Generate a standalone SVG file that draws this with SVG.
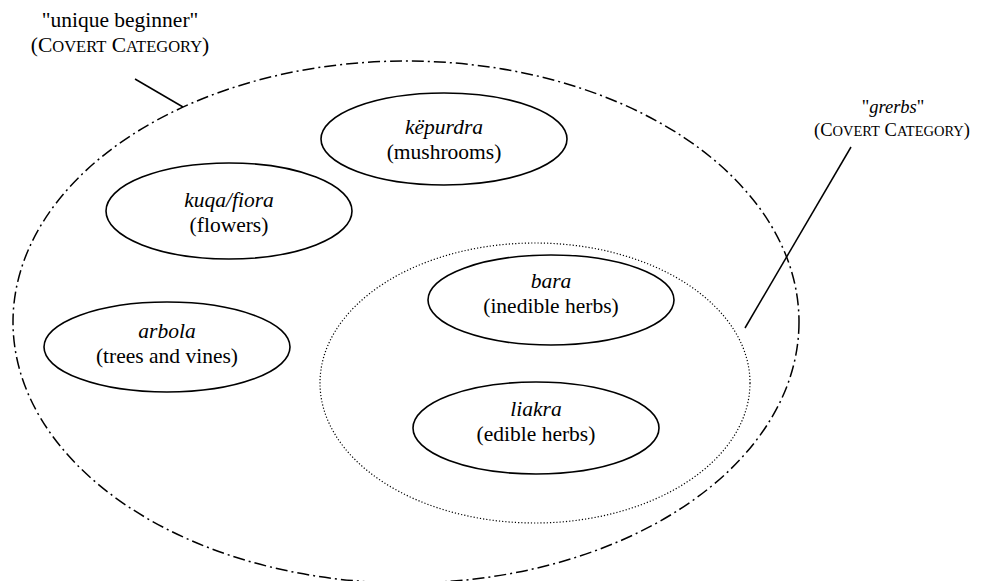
<svg xmlns="http://www.w3.org/2000/svg" width="995" height="581" viewBox="0 0 995 581">
<style>
text{font-family:"Liberation Serif","Times New Roman",serif;font-size:21.5px;fill:#000;text-anchor:middle}
.it{font-style:italic}
.sc{font-size:16.5px}
.r{font-size:18.5px}
.r .sc{font-size:14.5px}
.node{fill:none;stroke:#000;stroke-width:1.6}
.outer{fill:none;stroke:#000;stroke-width:1.5;stroke-dasharray:12 4 2 4}
.inner{fill:none;stroke:#000;stroke-width:1.2;stroke-dasharray:1.2 2}
.lead{stroke:#000;stroke-width:1.5}
</style>
<rect width="995" height="581" fill="#fff"/>
<g id="unique-beginner">
<ellipse class="outer" cx="406" cy="322" rx="393" ry="261"/>
<text x="120" y="27">"unique beginner"</text>
<text x="120" y="52">(C<tspan class="sc">OVERT</tspan> C<tspan class="sc">ATEGORY</tspan>)</text>
</g>
<g id="grerbs">
<ellipse class="inner" cx="535" cy="383" rx="215" ry="140"/>
<text class="r" x="893" y="113">"<tspan class="it">grerbs</tspan>"</text>
<text class="r" x="892" y="136">(C<tspan class="sc">OVERT</tspan> C<tspan class="sc">ATEGORY</tspan>)</text>
</g>
<g id="kepurdra">
<ellipse class="node" cx="444" cy="139" rx="123" ry="46"/>
<text class="it" x="444" y="134">këpurdra</text>
<text x="444" y="159">(mushrooms)</text>
</g>
<g id="kuqa-fiora">
<ellipse class="node" cx="229" cy="211" rx="123" ry="48"/>
<text class="it" x="229" y="207">kuqa/fiora</text>
<text x="229" y="232">(flowers)</text>
</g>
<g id="arbola">
<ellipse class="node" cx="167" cy="347" rx="123" ry="45"/>
<text class="it" x="167" y="338">arbola</text>
<text x="167" y="363">(trees and vines)</text>
</g>
<g id="bara">
<ellipse class="node" cx="551" cy="300" rx="123" ry="45"/>
<text class="it" x="551" y="288">bara</text>
<text x="551" y="313">(inedible herbs)</text>
</g>
<g id="liakra">
<ellipse class="node" cx="536" cy="428" rx="123" ry="46"/>
<text class="it" x="536" y="416">liakra</text>
<text x="536" y="441">(edible herbs)</text>
</g>
<g id="connectors">
<line class="lead" x1="135" y1="79" x2="183" y2="107"/>
<line class="lead" x1="851" y1="147" x2="745" y2="328"/>
</g>
</svg>
